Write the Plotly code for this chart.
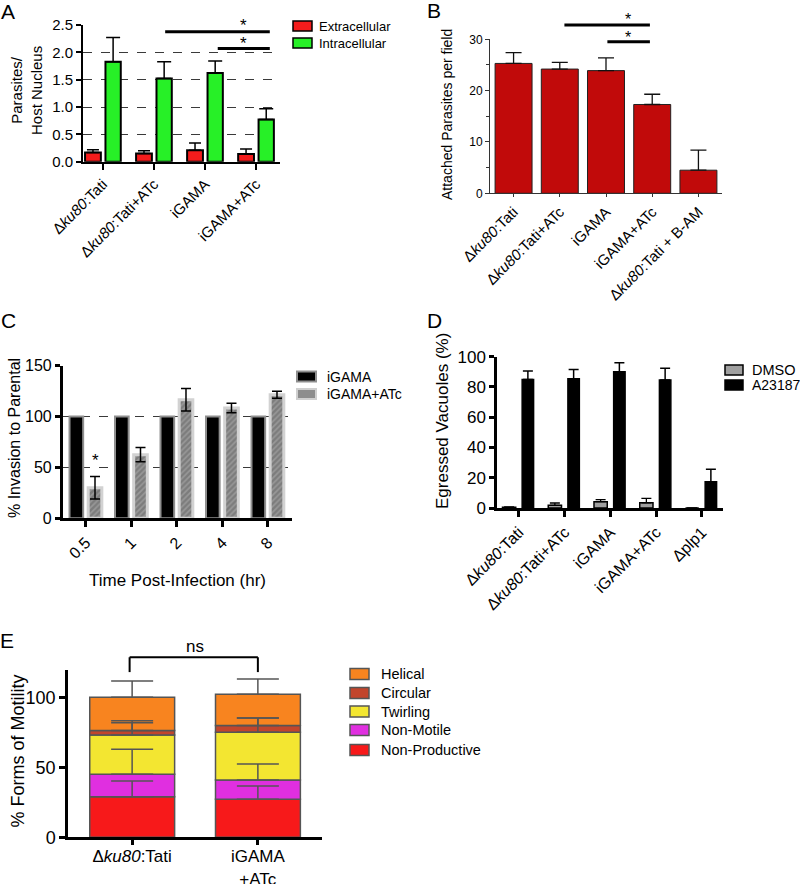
import plotly.graph_objects as go

W, H = 800, 884
FONT = "Liberation Sans, Arial, Helvetica, sans-serif"

# ---------------- data ----------------
# Panel A
a_groups = ["Δ<i>ku80</i>:Tati", "Δ<i>ku80</i>:Tati+ATc", "iGAMA", "iGAMA+ATc"]
a_extra = [0.17, 0.15, 0.21, 0.14]
a_extra_err = [0.05, 0.05, 0.13, 0.09]
a_intra = [1.83, 1.52, 1.62, 0.77]
a_intra_err = [0.44, 0.31, 0.22, 0.20]

# Panel B
b_groups = ["Δ<i>ku80</i>:Tati", "Δ<i>ku80</i>:Tati+ATc", "iGAMA", "iGAMA+ATc",
            "Δ<i>ku80</i>:Tati + B-AM"]
b_attached = [25.3, 24.2, 23.9, 17.3, 4.5]
b_attached_err = [2.1, 1.3, 2.5, 2.0, 3.9]

# Panel C
c_times = ["0.5", "1", "2", "4", "8"]
c_igama = [100, 100, 100, 100, 100]
c_atc = [30.0, 62.5, 116.5, 108.5, 121.5]
c_atc_err = [11.0, 7.0, 11.0, 4.7, 3.5]

# Panel D
d_groups = ["Δ<i>ku80</i>:Tati", "Δ<i>ku80</i>:Tati+ATc", "iGAMA", "iGAMA+ATc", "Δplp1"]
d_dmso = [0.5, 1.8, 4.2, 3.4, 0.0]
d_dmso_err = [0.3, 1.5, 1.3, 3.0, 0.0]
d_a23187 = [85.0, 85.5, 90.1, 84.6, 17.4]
d_a23187_err = [5.5, 6.1, 5.9, 7.7, 8.2]

# Panel E
e_groups = ["Δ<i>ku80</i>:Tati", "iGAMA<br>+ATc"]
e_nonprod = [29.0, 27.1]
e_nonprod_err = [11.2, 9.6]
e_nonmotile = [16.0, 13.9]
e_nonmotile_err = [17.9, 11.4]
e_twirling = [28.1, 34.0]
e_twirling_err = [10.2, 10.2]
e_circular = [3.1, 4.8]
e_circular_err = [5.7, 5.4]
e_helical = [23.8, 22.3]
e_helical_err = [11.7, 11.0]

# ---------------- geometry (pixels: left, right, top, bottom) ----------------
BOX = {
    'A': (83, 280, 25, 161.7),
    'B': (490, 722, 39.3, 193.3),
    'C': (62.7, 292, 365.7, 518.3),
    'D': (497, 723, 356.7, 508),
    'E': (68, 322, 670, 837.3),
}
XR = {'A': [-0.39, 3.47], 'B': [-0.51, 4.51], 'C': [-0.51, 4.53],
      'D': [-0.48, 4.46], 'E': [-0.51, 1.51]}
YR = {'A': [0, 2.5], 'B': [0, 30], 'C': [0, 150], 'D': [0, 100], 'E': [0, 119.5]}
AXN = {'A': '', 'B': '2', 'C': '3', 'D': '4', 'E': '5'}


def data_px(p, xv, yv):
    l, r, t, b = BOX[p]
    x0, x1 = XR[p]
    y0, y1 = YR[p]
    return l + (xv - x0) / (x1 - x0) * (r - l), b - (yv - y0) / (y1 - y0) * (b - t)


annotations = []
shapes = []


def text(px, py, s, size, angle=0, xanchor='center', yanchor='middle', color='black'):
    annotations.append(dict(x=px / W, y=1 - py / H, xref='paper', yref='paper', text=s,
                            showarrow=False, textangle=angle, xanchor=xanchor,
                            yanchor=yanchor, font=dict(family=FONT, size=size, color=color)))


def line(x0, y0, x1, y1, width=2, color='black'):
    shapes.append(dict(type='line', xref='paper', yref='paper', x0=x0 / W, x1=x1 / W,
                       y0=1 - y0 / H, y1=1 - y1 / H, line=dict(color=color, width=width)))


def rect(x0, y0, x1, y1, fill, lc='black', lw=1.5):
    shapes.append(dict(type='rect', xref='paper', yref='paper', x0=x0 / W, x1=x1 / W,
                       y0=1 - y1 / H, y1=1 - y0 / H, fillcolor=fill,
                       line=dict(color=lc, width=lw)))


def dline(p, xa, ya, xb, yb, width=3):
    pa = data_px(p, xa, ya)
    pb = data_px(p, xb, yb)
    line(pa[0], pa[1], pb[0], pb[1], width)


def dtext(p, xv, yv, s, size, dy=0):
    px, py = data_px(p, xv, yv)
    text(px, py + dy, s, size)


fig = go.Figure()

# ---------------- Panel A ----------------
fig.add_bar(x=a_groups, y=a_extra, name="Extracellular", xaxis='x', yaxis='y',
            offset=-0.35, width=0.31,
            marker=dict(color='#f41c1c', line=dict(color='black', width=2)),
            error_y=dict(type='data', array=a_extra_err, arrayminus=[0] * 4, symmetric=False,
                         color='black', thickness=1.5, width=6))
fig.add_bar(x=a_groups, y=a_intra, name="Intracellular", xaxis='x', yaxis='y',
            offset=0.05, width=0.30,
            marker=dict(color='#27f027', line=dict(color='black', width=2)),
            error_y=dict(type='data', array=a_intra_err, arrayminus=[0] * 4, symmetric=False,
                         color='black', thickness=1.5, width=7))

# ---------------- Panel B ----------------
fig.add_bar(x=b_groups, y=b_attached, name="Attached", xaxis='x2', yaxis='y2',
            offset=-0.4, width=0.8,
            marker=dict(color='#c10a0a', line=dict(color='#222', width=1)),
            error_y=dict(type='data', array=b_attached_err, arrayminus=[0] * 5, symmetric=False,
                         color='#111', thickness=1.3, width=8))

# ---------------- Panel C ----------------
fig.add_bar(x=c_times, y=c_igama, name="iGAMA", xaxis='x3', yaxis='y3',
            offset=-0.36, width=0.30,
            marker=dict(color='black', line=dict(color='#8f8f8f', width=2)))
fig.add_bar(x=c_times, y=c_atc, name="iGAMA+ATc", xaxis='x3', yaxis='y3',
            offset=0.05, width=0.30,
            marker=dict(color='#8a8a8a', line=dict(color='#d2d2d2', width=3),
                        pattern=dict(shape='/', fgcolor='#b4b4b4', bgcolor='#7c7c7c',
                                     size=4, solidity=0.4)),
            error_y=dict(type='data', array=c_atc_err, color='black', thickness=1.5, width=5))

# ---------------- Panel D ----------------
fig.add_bar(x=d_groups, y=d_dmso, name="DMSO", xaxis='x4', yaxis='y4',
            offset=-0.36, width=0.29,
            marker=dict(color='#a0a0a0', line=dict(color='black', width=1.5)),
            error_y=dict(type='data', array=d_dmso_err, arrayminus=[0] * 5, symmetric=False,
                         color='black', thickness=1.3, width=5))
fig.add_bar(x=d_groups, y=d_a23187, name="A23187", xaxis='x4', yaxis='y4',
            offset=0.07, width=0.25,
            marker=dict(color='black', line=dict(color='black', width=1.5)),
            error_y=dict(type='data', array=d_a23187_err, arrayminus=[0] * 5, symmetric=False,
                         color='black', thickness=1.5, width=5))

# ---------------- Panel E ----------------
e_series = [
    ("Non-Productive", e_nonprod, e_nonprod_err, '#f7191a'),
    ("Non-Motile", e_nonmotile, e_nonmotile_err, '#e02fe0'),
    ("Twirling", e_twirling, e_twirling_err, '#f3e631'),
    ("Circular", e_circular, e_circular_err, '#c2452c'),
    ("Helical", e_helical, e_helical_err, '#f8841f'),
]
base = [0.0] * len(e_groups)
tops_list = []
for name, vals, errs, col in e_series:
    fig.add_bar(x=e_groups, y=vals, base=list(base), name=name, xaxis='x5', yaxis='y5',
                offset=-0.337, width=0.675,
                marker=dict(color=col, line=dict(color='#555', width=1.5)))
    tops = [b + v for b, v in zip(base, vals)]
    tops_list.append((name, tops, errs))
    base = tops
for name, tops, errs in tops_list:
    fig.add_scatter(x=e_groups, y=tops, mode='markers', xaxis='x5', yaxis='y5',
                    marker=dict(size=2, opacity=0), hoverinfo='skip', name=name + " error",
                    error_y=dict(type='data', array=errs, arrayminus=[0] * len(errs),
                                 symmetric=False, color='#555', thickness=1.5, width=21))

fig.update_traces(showlegend=False)

# ---------------- axes ----------------
def xaxis(p, tickangle, fsize, lw, ticklen, color='black'):
    l, r, t, b = BOX[p]
    return dict(domain=[l / W, r / W], range=XR[p], type='category', anchor='y' + AXN[p],
                showline=True, linewidth=lw, linecolor=color, ticks='outside',
                ticklen=ticklen, tickwidth=lw, tickcolor=color, tickangle=tickangle,
                tickfont=dict(family=FONT, size=fsize, color='black'), automargin=False,
                showgrid=False, zeroline=False, fixedrange=True)


def yaxis(p, dtick, fsize, lw, ticklen, color='black', grid=False, minor=None):
    l, r, t, b = BOX[p]
    d = dict(domain=[1 - b / H, 1 - t / H], range=YR[p], anchor='x' + AXN[p],
             showline=True, linewidth=lw, linecolor=color, ticks='outside',
             ticklen=ticklen, tickwidth=lw, tickcolor=color, dtick=dtick, tick0=0,
             tickfont=dict(family=FONT, size=fsize, color='black'), automargin=False,
             showgrid=grid, gridcolor='#3a3a3a', gridwidth=0.8, griddash='dash',
             zeroline=False, fixedrange=True)
    if minor:
        d['minor'] = minor
    return d


fig.update_layout(
    xaxis=xaxis('A', -45, 15, 2, 6),
    yaxis=dict(yaxis('A', 0.5, 15, 2, 5, grid=True), tickformat='.1f'),
    xaxis2=xaxis('B', -45, 15, 1, 3, color='#333'),
    yaxis2=yaxis('B', 10, 12, 1, 4, color='#333',
                 minor=dict(dtick=5, ticks='outside', ticklen=3, tickcolor='#333', tickwidth=1)),
    xaxis3=xaxis('C', -45, 16, 2.5, 6),
    yaxis3=yaxis('C', 50, 16, 2.5, 5, grid=True),
    xaxis4=xaxis('D', -45, 16, 2.5, 6),
    yaxis4=yaxis('D', 20, 17, 2.5, 5),
    xaxis5=dict(xaxis('E', 0, 17, 2.5, 5), ticklabelstandoff=-3),
    yaxis5=yaxis('E', 50, 18, 2.5, 6),
)

# ---------------- annotations: titles, letters ----------------
text(8, 12, "A", 21)
text(434, 11, "B", 21)
text(8, 320, "C", 21)
text(434, 320, "D", 21)
text(7, 640, "E", 21)

text(27, 91, "Parasites/<br>Host Nucleus", 15, angle=-90)
text(447, 115, "Attached Parasites per field", 14, angle=-90)
text(14, 438, "% Invasion to Parental", 16, angle=-90)
text(177, 580, "Time Post-Infection (hr)", 17)
text(442, 421, "Egressed Vacuoles (%)", 17, angle=-90)
text(17.5, 751, "% Forms of Motility", 18, angle=-90)

# significance marks
dline('A', 1.22, 2.375, 3.27, 2.375)
dline('A', 2.25, 2.07, 3.27, 2.07)
dtext('A', 2.75, 2.56, "*", 17, dy=4)
dtext('A', 2.75, 2.24, "*", 17, dy=4)

dline('B', 1.1, 32.8, 2.95, 32.8)
dline('B', 2.03, 29.5, 2.95, 29.5)
dtext('B', 2.47, 34.6, "*", 16, dy=4)
dtext('B', 2.47, 31.2, "*", 16, dy=4)

dtext('C', 0.2, 60.5, "*", 17, dy=4)

dline('E', -0.02, 118, -0.02, 128.6, width=2)
dline('E', -0.02, 128.6, 1.0, 128.6, width=2)
dline('E', 1.0, 128.6, 1.0, 118, width=2)
dtext('E', 0.5, 136.6, "ns", 17)

# ---------------- manual legends ----------------
# A
rect(293, 21, 312, 31, '#f41c1c')
text(317, 26, "Extracellular", 13, xanchor='left')
rect(293, 38, 312, 48, '#27f027')
text(317, 43, "Intracellular", 13, xanchor='left')
# C
rect(297, 371.5, 316, 381.5, 'black', lc='#8f8f8f', lw=2)
text(325, 376.5, "iGAMA", 14, xanchor='left')
rect(297, 389, 316, 399, '#8d8d8d', lc='#cfcfcf', lw=2)
text(325, 394, "iGAMA+ATc", 14, xanchor='left')
# D
rect(725, 365, 743, 375, '#a0a0a0')
text(750, 370, "DMSO", 14.5, xanchor='left')
rect(725, 380, 743, 390, 'black')
text(750, 385, "A23187", 14, xanchor='left')
# E
e_leg_y = {"Helical": 674, "Circular": 693, "Twirling": 711.5, "Non-Motile": 730, "Non-Productive": 750}
for name, vals, errs, col in e_series:
    yy = e_leg_y[name]
    rect(350, yy - 5.5, 369, yy + 5.5, col, lc='#555', lw=1.5)
    text(379, yy, name, 14.5, xanchor='left')

fig.update_layout(
    width=W, height=H, margin=dict(l=0, r=0, t=0, b=0, autoexpand=False),
    paper_bgcolor='white', plot_bgcolor='white', barmode='overlay',
    showlegend=False, annotations=annotations, shapes=shapes,
    font=dict(family=FONT, color='black'),
)

fig.write_html("out.html", config={'displayModeBar': False},
               post_script="document.body.style.margin='0';")
